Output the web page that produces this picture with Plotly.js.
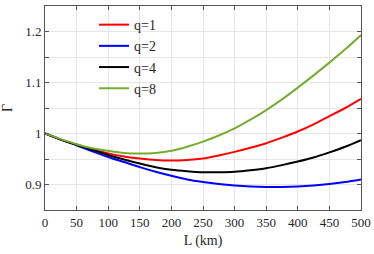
<!DOCTYPE html>
<html>
<head>
<meta charset="utf-8">
<script src="https://cdn.plot.ly/plotly-3.0.1.min.js"></script>
<style>html,body{margin:0;padding:0;background:#fff;}#chart{width:374px;height:254px;}</style>
</head>
<body>
<div id="chart"></div>
<script>
const L = [0, 25, 50, 75, 100, 125, 150, 175, 200, 225, 250, 275, 300, 325, 350, 375, 400, 425, 450, 475, 500];
const gammaQ1 = [1.000, 0.988, 0.978, 0.969, 0.961, 0.955, 0.951, 0.948, 0.947, 0.948, 0.951, 0.957, 0.964, 0.972, 0.981, 0.992, 1.004, 1.018, 1.034, 1.050, 1.068];
const gammaQ2 = [1.000, 0.988, 0.977, 0.965, 0.954, 0.944, 0.934, 0.925, 0.917, 0.910, 0.905, 0.901, 0.898, 0.896, 0.895, 0.895, 0.896, 0.898, 0.901, 0.905, 0.910];
const gammaQ4 = [1.000, 0.988, 0.978, 0.968, 0.958, 0.949, 0.941, 0.934, 0.929, 0.926, 0.924, 0.924, 0.925, 0.928, 0.932, 0.938, 0.945, 0.953, 0.963, 0.974, 0.987];
const gammaQ8 = [1.000, 0.989, 0.979, 0.971, 0.966, 0.962, 0.961, 0.962, 0.966, 0.974, 0.984, 0.996, 1.010, 1.027, 1.046, 1.067, 1.090, 1.114, 1.139, 1.165, 1.193];
const seriesNames = ['q=1', 'q=2', 'q=4', 'q=8'];
const seriesColors = ['#ff0000', '#0000ff', '#000000', '#77ac30'];
const yTickVals = [0.85, 0.9, 0.95, 1.0, 1.05, 1.1, 1.15, 1.2, 1.25];
const yTickText = ['', '0.9', '', '1', '', '1.1', '', '1.2', ''];
const xTickVals = [0, 50, 100, 150, 200, 250, 300, 350, 400, 450, 500];

const allY = [gammaQ1, gammaQ2, gammaQ4, gammaQ8];
const traces = allY.map((y, i) => ({
  x: L, y: y, type: 'scatter', mode: 'lines', name: seriesNames[i],
  legendgroup: 'g' + i,
  line: {color: seriesColors[i], width: 2, shape: 'spline', smoothing: 0.8}
}));

const fontFam = '"Liberation Serif", "Times New Roman", serif';
const layout = {
  width: 374, height: 254,
  margin: {l: 45, r: 13, t: 6, b: 44},
  paper_bgcolor: '#ffffff', plot_bgcolor: '#ffffff',
  font: {family: fontFam, size: 13, color: '#262626'},
  showlegend: true,
  legend: {x: 0.155, y: 0.985, xanchor: 'left', yanchor: 'top', bgcolor: 'rgba(0,0,0,0)',
           font: {family: fontFam, size: 14, color: '#262626'}, tracegroupgap: 6, traceorder: 'normal'},
  xaxis: {
    range: [0, 500], tickvals: xTickVals, ticks: 'inside', ticklen: 4, tickcolor: '#555',
    showline: true, linecolor: '#555', linewidth: 1, mirror: 'ticks',
    showgrid: true, gridcolor: '#e6e6e6', gridwidth: 1, zeroline: false,
    title: {text: 'L (km)', font: {family: fontFam, size: 14, color: '#262626'}, standoff: 6}
  },
  yaxis: {
    range: [0.85, 1.25], tickvals: yTickVals, ticktext: yTickText, ticks: 'inside', ticklen: 4, tickcolor: '#555',
    showline: true, linecolor: '#555', linewidth: 1, mirror: 'ticks',
    showgrid: true, gridcolor: '#e6e6e6', gridwidth: 1, zeroline: false,
    title: {text: 'Γ', font: {family: fontFam, size: 14, color: '#262626'}, standoff: 10}
  }
};
Plotly.newPlot('chart', traces, layout, {staticPlot: true, displayModeBar: false});
</script>
</body>
</html>
